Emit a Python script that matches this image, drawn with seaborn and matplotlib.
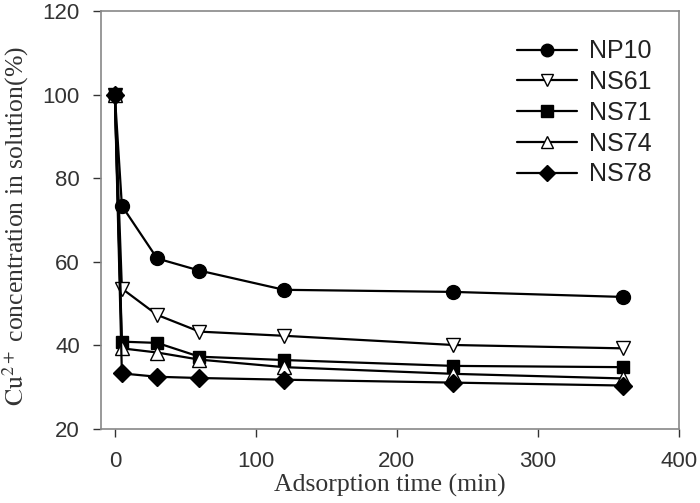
import matplotlib
matplotlib.use('Agg')
import matplotlib.pyplot as plt
import seaborn as sns
import pandas as pd

# --- Data ---
time_min = [0, 5, 30, 60, 120, 240, 360]
np10 = [100, 73.4, 60.8, 57.9, 53.3, 52.8, 51.6]
ns61 = [100, 53.6, 47.3, 43.3, 42.3, 40.1, 39.3]
ns71 = [100, 40.9, 40.6, 37.3, 36.5, 35.1, 34.8]
ns74 = [100, 39.3, 38.3, 36.6, 34.8, 33.2, 32.1]
ns78 = [100, 33.3, 32.5, 32.2, 31.8, 31.1, 30.4]

series_names = ['NP10', 'NS61', 'NS71', 'NS74', 'NS78']
series_values = [np10, ns61, ns71, ns74, ns78]
series_markers = ['o', 'v', 's', '^', 'D']
series_faces = ['black', 'white', 'black', 'white', 'black']
series_sizes = [10, 10, 9, 10, 9]

sns.set_style('white')
plt.rcParams['font.family'] = ['Liberation Sans', 'DejaVu Sans']
plt.rcParams['mathtext.fontset'] = 'stix'

fig = plt.figure(figsize=(7, 5.03), dpi=100)
ax = fig.add_axes([0.1439, 0.1471, 0.8261, 0.8310])

for name, vals, mk, fc, ms in zip(series_names, series_values, series_markers,
                                  series_faces, series_sizes):
    df = pd.DataFrame({'time': time_min, 'conc': vals})
    sns.lineplot(data=df, x='time', y='conc', ax=ax, color='black', lw=1.6,
                 marker=mk, markersize=ms, markerfacecolor=fc,
                 markeredgecolor='black', markeredgewidth=1.0, label=name)

ax.set_xlim(-10, 400)
ax.set_ylim(20, 120)
ax.set_xticks([0, 100, 200, 300, 400])
ax.set_yticks([20, 40, 60, 80, 100, 120])
ax.tick_params(axis='both', labelsize=16, colors='#333333', length=6,
               width=1, direction='out', left=True, bottom=True)
ax.tick_params(axis='x', pad=10)
ax.tick_params(axis='y', pad=9)
for sp in ax.spines.values():
    sp.set_color('#888888')
    sp.set_linewidth(1.2)

ax.set_xlabel('Adsorption time (min)', fontsize=18.5, family='Liberation Serif',
              color='#333333', labelpad=1)
ax.set_ylabel(r'$\mathrm{Cu}^{2+}$' + ' concentration in solution(%)',
              fontsize=18.5, family='Liberation Serif', color='#333333')
ax.yaxis.set_label_coords(-0.12, 0.485)

leg = ax.legend(loc='upper right', bbox_to_anchor=(0.988, 0.98), frameon=False,
                fontsize=18, handlelength=2.4, labelspacing=0.27,
                handletextpad=0.48, markerscale=0.9, borderpad=0.3)
for t in leg.get_texts():
    t.set_color('#222222')

fig.savefig('out.png', dpi=100)
